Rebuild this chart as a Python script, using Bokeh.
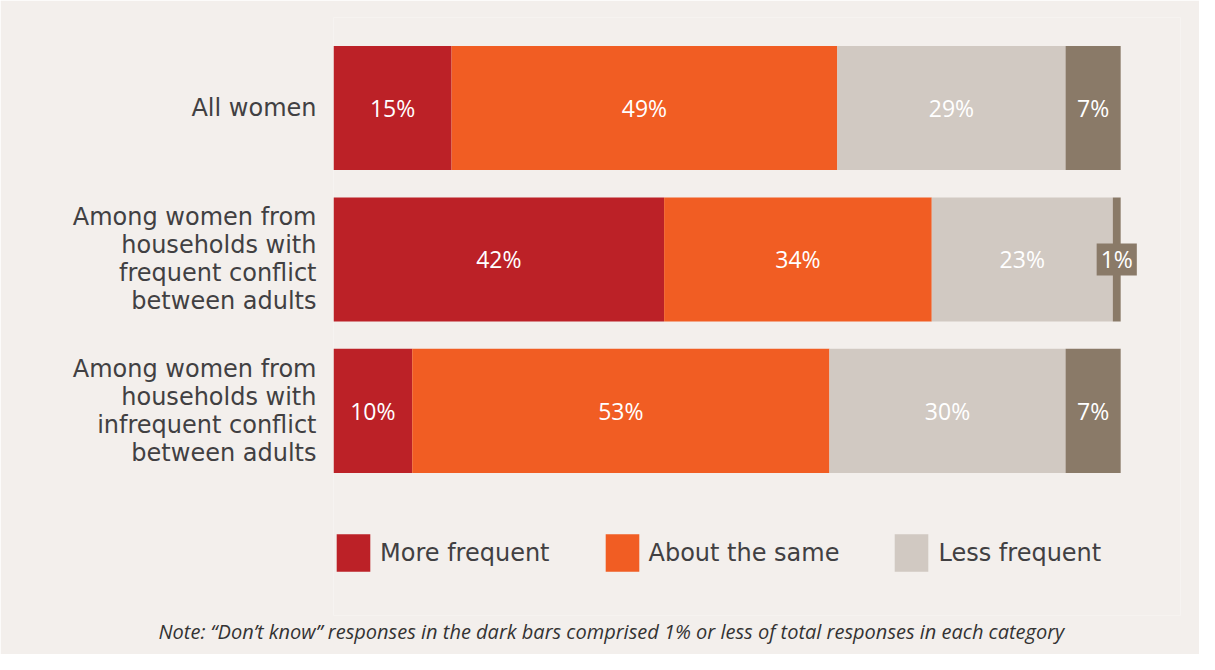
import numpy as np
from bokeh.plotting import figure
from bokeh.models import ColumnDataSource, Range1d, Legend, LegendItem, Title, FixedTicker
from bokeh.core.properties import value
from bokeh.embed import file_html
from bokeh.resources import INLINE

categories = [
    "All women",
    "Among women from\nhouseholds with\nfrequent conflict\nbetween adults",
    "Among women from\nhouseholds with\ninfrequent conflict\nbetween adults",
]
series_names = ["More frequent", "About the same", "Less frequent", "Don't know"]
more_frequent = [15, 42, 10]
about_same = [49, 34, 53]
less_frequent = [29, 23, 30]
dont_know = [7, 1, 7]
note = "Note: \u201cDon\u2019t know\u201d responses in the dark bars comprised 1% or less of total responses in each category"

colors = ["#bc2127", "#f15d23", "#d1c9c2", "#8a7a68"]
BG = "#f3efec"
TXT = "#414042"
FONT = "DejaVu Sans"
PFONT = "Open Sans"

series = [more_frequent, about_same, less_frequent, dont_know]
ypos = np.arange(len(categories))

p = figure(width=1199, height=654, output_backend="svg", toolbar_location=None,
           x_range=Range1d(0, 107.6), y_range=Range1d(3.35, -0.5974),
           x_axis_location=None,
           min_border_left=333, min_border_right=19, min_border_top=17, min_border_bottom=39)
p.background_fill_color = BG
p.border_fill_color = BG
p.outline_line_color = None
p.xgrid.visible = False
p.ygrid.visible = False

renderers = []
left = np.zeros(len(categories))
lab_x, lab_y, lab_t = [], [], []
small_x, small_y, small_t = [], [], []
for vals, col in zip(series, colors):
    vals = np.array(vals, dtype=float)
    right = left + vals
    src = ColumnDataSource(dict(y=ypos, left=left, right=right))
    r = p.hbar(y="y", left="left", right="right", height=0.82, source=src,
               fill_color=col, line_color=None)
    renderers.append(r)
    for i, v in enumerate(vals):
        mid = (left[i] + right[i]) / 2
        if v >= 3:
            lab_x.append(mid); lab_y.append(ypos[i]); lab_t.append(f"{int(v)}%")
        else:
            small_x.append(mid); small_y.append(ypos[i]); small_t.append(f"{int(v)}%")
    left = right

p.text(x=lab_x, y=lab_y, text=lab_t, text_color="white", text_font=value(PFONT),
       text_font_size="23px", text_align="center", text_baseline="middle")
p.text(x=small_x, y=small_y, text=small_t, text_color="white", text_font=value(PFONT),
       text_font_size="23px", text_align="center", text_baseline="middle",
       background_fill_color=colors[3], padding=(4, 0))

yax = p.yaxis[0]
yax.ticker = FixedTicker(ticks=list(ypos))
yax.major_label_overrides = {int(i): c for i, c in zip(ypos, categories)}
yax.axis_line_color = None
yax.major_tick_line_color = None
yax.minor_tick_line_color = None
yax.major_label_standoff = 11
yax.major_label_text_font = FONT
yax.major_label_text_font_size = "24px"
yax.major_label_text_line_height = 1.0
yax.major_label_text_color = TXT
yax.major_label_text_align = "right"

legend = Legend(items=[LegendItem(label=n, renderers=[r]) for n, r in zip(series_names[:3], renderers[:3])],
                orientation="horizontal", location=(-1, 39), padding=0, margin=0,
                glyph_width=42, glyph_height=47, label_standoff=6, spacing=51,
                label_text_font=FONT, label_text_font_size="24px", label_text_color=TXT,
                background_fill_alpha=0, border_line_alpha=0)
p.add_layout(legend, "center")

p.add_layout(Title(text=note, align="left", offset=-175, standoff=0,
                   text_font=PFONT, text_font_style="italic",
                   text_font_size="20px", text_color="#333333"), "below")

open("out.html", "w").write(file_html(p, INLINE))
